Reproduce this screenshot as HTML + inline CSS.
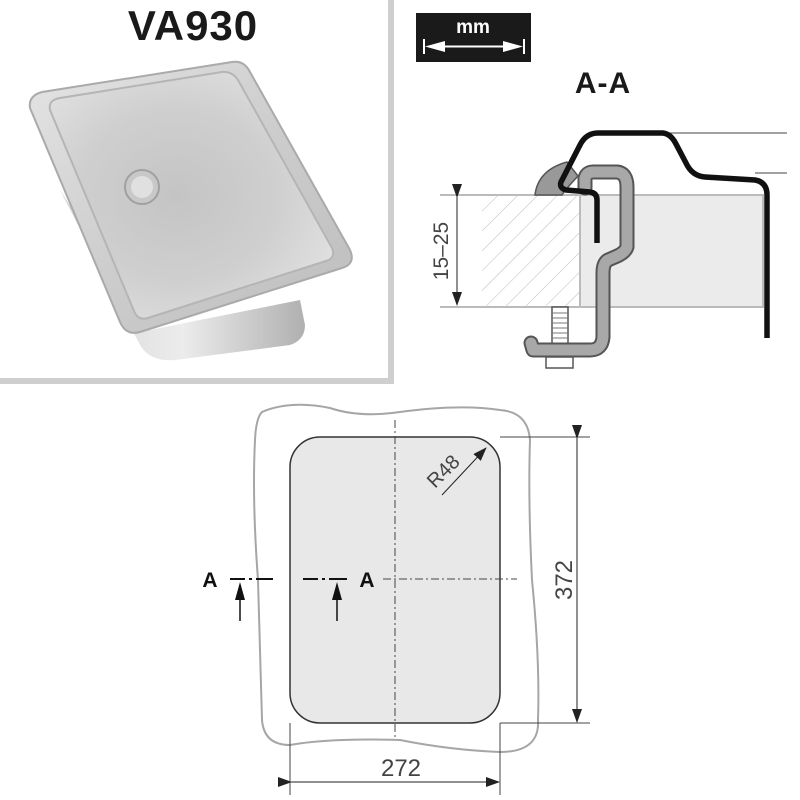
<!DOCTYPE html>
<html><head><meta charset="utf-8"><style>
html,body{margin:0;padding:0;background:#fff;}
svg{display:block;}
text{font-family:"Liberation Sans",sans-serif;}
</style></head><body>
<svg width="800" height="800" viewBox="0 0 800 800" xmlns="http://www.w3.org/2000/svg">
<defs>
<linearGradient id="rim" x1="0" y1="0" x2="1" y2="1">
<stop offset="0" stop-color="#e4e4e4"/><stop offset="0.5" stop-color="#cdcdcd"/><stop offset="1" stop-color="#bdbdbd"/>
</linearGradient>
<radialGradient id="basin" cx="0.45" cy="0.5" r="0.7">
<stop offset="0" stop-color="#c4c4c4"/><stop offset="0.5" stop-color="#cfcfcf"/><stop offset="1" stop-color="#e6e6e6"/>
</radialGradient>
<linearGradient id="body" x1="0" y1="0" x2="1" y2="0">
<stop offset="0" stop-color="#d4d4d4"/><stop offset="0.5" stop-color="#ececec"/><stop offset="1" stop-color="#b0b0b0"/>
</linearGradient>
<pattern id="hatch" width="14" height="14" patternUnits="userSpaceOnUse" patternTransform="rotate(45)">
<line x1="0" y1="0" x2="0" y2="14" stroke="#bbb" stroke-width="1"/>
</pattern>
<marker id="ar" markerWidth="14" markerHeight="10" refX="13" refY="5" orient="auto" markerUnits="userSpaceOnUse">
<path d="M0,0 L14,5 L0,10 z" fill="#222"/></marker>
</defs>

<rect x="388" y="0" width="6" height="384" fill="#cfcfcf"/>
<rect x="0" y="378" width="394" height="6" fill="#cfcfcf"/>

<text x="193" y="40" text-anchor="middle" font-size="42" font-weight="bold" fill="#1a1a1a" letter-spacing="1">VA930</text>

<path d="M60,190 L140,345 Q150,362 175,360 L290,345 Q305,340 305,325 L300,300 L150,330 Z" fill="url(#body)"/>
<path d="M30,108 Q28,96 42,92 L232,62 Q244,60 250,72 L350,250 Q356,264 342,268 L140,332 Q126,336 120,322 Z" fill="url(#rim)" stroke="#aaa" stroke-width="2"/>
<path d="M50,110 Q48,100 60,98 L222,72 Q232,71 238,80 L332,248 Q336,258 326,261 L148,318 Q138,321 134,311 Z" fill="url(#basin)" stroke="#b5b5b5" stroke-width="2"/>
<circle cx="142" cy="187" r="17" fill="#c8c8c8" stroke="#a0a0a0" stroke-width="2"/>
<circle cx="142" cy="187" r="11" fill="#e0e0e0"/>

<rect x="416" y="13" width="115" height="49" fill="#1a1a1a"/>
<text x="473" y="33" text-anchor="middle" font-size="19" font-weight="bold" fill="#fff">mm</text>
<line x1="424" y1="39" x2="424" y2="54" stroke="#fff" stroke-width="2"/>
<line x1="524" y1="39" x2="524" y2="54" stroke="#fff" stroke-width="2"/>
<path d="M425,46.5 L445,41 L445,52 Z M523,46.5 L503,41 L503,52 Z" fill="#fff"/>
<line x1="440" y1="46.5" x2="508" y2="46.5" stroke="#fff" stroke-width="2"/>

<text x="603" y="93" text-anchor="middle" font-size="30" font-weight="bold" fill="#1a1a1a" letter-spacing="1">A-A</text>

<line x1="670" y1="133" x2="787" y2="133" stroke="#444" stroke-width="1"/>
<line x1="755" y1="173" x2="787" y2="173" stroke="#444" stroke-width="1"/>
<rect x="580" y="195" width="183" height="112" fill="#ebebeb" stroke="#bbb" stroke-width="2"/>
<rect x="482" y="195" width="98" height="112" fill="url(#hatch)"/>
<line x1="440" y1="195" x2="580" y2="195" stroke="#bbb" stroke-width="2"/>
<line x1="440" y1="307" x2="580" y2="307" stroke="#bbb" stroke-width="2"/>
<line x1="457" y1="197" x2="457" y2="305" stroke="#222" stroke-width="1" marker-start="url(#ar)" marker-end="url(#ar)"/>
<text transform="translate(448,251) rotate(-90)" text-anchor="middle" font-size="21" fill="#444">15–25</text>
<path d="M535,195 Q538,170 567,162 L578,176 Q565,190 562,195 Z" fill="#999" stroke="#555" stroke-width="1.5"/>
<rect x="552" y="307" width="16" height="40" fill="#fff" stroke="#555" stroke-width="1.5"/>
<g stroke="#777" stroke-width="1"><line x1="552" y1="313" x2="568" y2="313"/><line x1="552" y1="318" x2="568" y2="318"/><line x1="552" y1="323" x2="568" y2="323"/><line x1="552" y1="328" x2="568" y2="328"/><line x1="552" y1="333" x2="568" y2="333"/><line x1="552" y1="338" x2="568" y2="338"/></g>
<rect x="546" y="357" width="27" height="11" fill="#fff" stroke="#555" stroke-width="1.5"/>
<path d="M585,188 L585,178 Q587,172 593,172 L617,172 Q627,173 627,187 L627,247 Q625,253 615,257 L608,260 Q603,263 603,273 L603,337 Q602,350 590,350 L533,350 L531,343" fill="none" stroke="#555" stroke-width="15" stroke-linejoin="round" stroke-linecap="round"/>
<path d="M585,188 L585,178 Q587,172 593,172 L617,172 Q627,173 627,187 L627,247 Q625,253 615,257 L608,260 Q603,263 603,273 L603,337 Q602,350 590,350 L533,350 L531,343" fill="none" stroke="#a8a8a8" stroke-width="11" stroke-linejoin="round" stroke-linecap="round"/>
<path d="M597,243 L597,200 Q597,193 590,192 L566,190 Q559,188 561,182 L580,145 Q586,133 598,133 L663,133 Q671,134 676,144 L686,163 Q692,176 705,177 L755,180 Q767,182 767,195 L767,338" fill="none" stroke="#111" stroke-width="5.5" stroke-linejoin="round"/>

<path d="M262,412 Q290,400 330,408 Q360,418 400,412 Q460,404 500,410 Q528,412 530,440 Q528,500 532,580 Q540,660 538,720 Q540,752 500,752 Q450,750 400,740 Q330,738 290,745 Q264,745 262,720 Q260,650 258,580 Q252,500 255,440 Q256,418 262,412 Z" fill="none" stroke="#a6a6a6" stroke-width="2"/>
<rect x="290" y="437" width="210" height="286" rx="30" ry="30" fill="#e8e8e8" stroke="#333" stroke-width="1.5"/>
<line x1="395" y1="420" x2="395" y2="738" stroke="#444" stroke-width="1" stroke-dasharray="8,3,2,3"/>
<line x1="383" y1="579" x2="517" y2="579" stroke="#444" stroke-width="1" stroke-dasharray="8,3,2,3"/>
<line x1="500" y1="437" x2="590" y2="437" stroke="#444" stroke-width="1"/>
<line x1="500" y1="723" x2="590" y2="723" stroke="#444" stroke-width="1"/>
<line x1="577" y1="438" x2="577" y2="722" stroke="#222" stroke-width="1" marker-start="url(#ar)" marker-end="url(#ar)"/>
<text transform="translate(572,580) rotate(-90)" text-anchor="middle" font-size="24" fill="#444">372</text>
<line x1="290" y1="723" x2="290" y2="795" stroke="#444" stroke-width="1"/>
<line x1="500" y1="723" x2="500" y2="795" stroke="#444" stroke-width="1"/>
<line x1="291" y1="782" x2="499" y2="782" stroke="#222" stroke-width="1" marker-start="url(#ar)" marker-end="url(#ar)"/>
<text x="401" y="776" text-anchor="middle" font-size="24" fill="#444">272</text>
<line x1="442" y1="495" x2="486" y2="448" stroke="#222" stroke-width="1" marker-end="url(#ar)"/>
<text transform="translate(448,476) rotate(-45)" text-anchor="middle" font-size="20" fill="#444">R48</text>
<text x="210" y="587" text-anchor="middle" font-size="21" font-weight="bold" fill="#111">A</text>
<path d="M230,579 L245,579 M249,579 L252,579 M256,579 L273,579" stroke="#111" stroke-width="2"/>
<line x1="240" y1="621" x2="240" y2="585" stroke="#111" stroke-width="1.5"/>
<path d="M240,582 L235,600 L245,600 Z" fill="#111"/>
<text x="367" y="587" text-anchor="middle" font-size="21" font-weight="bold" fill="#111">A</text>
<path d="M303,579 L318,579 M322,579 L325,579 M329,579 L347,579" stroke="#111" stroke-width="2"/>
<line x1="337" y1="621" x2="337" y2="585" stroke="#111" stroke-width="1.5"/>
<path d="M337,582 L332,600 L342,600 Z" fill="#111"/>
</svg>
</body></html>
